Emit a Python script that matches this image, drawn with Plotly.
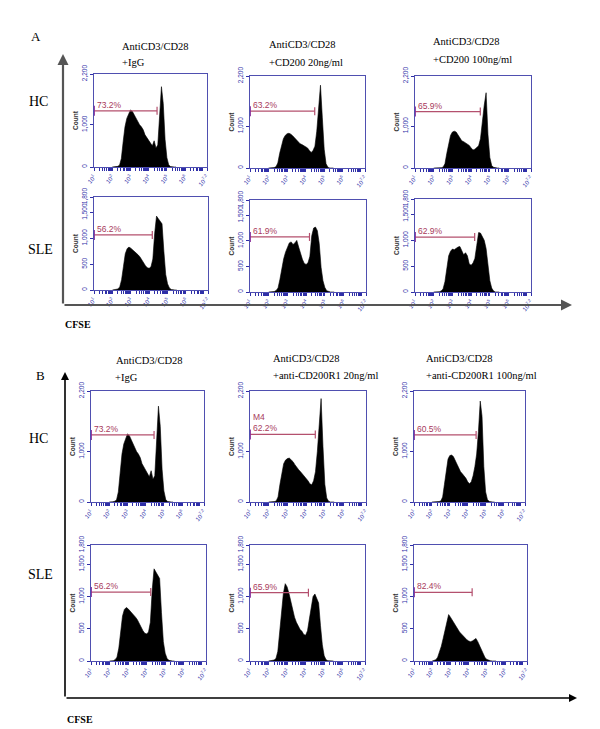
import math
import plotly.graph_objects as go

# ---------------- data ----------------
CFSE_BINS = [2.0, 2.1, 2.2, 2.3, 2.4, 2.5, 2.6, 2.7, 2.8, 2.9,
             3.0, 3.1, 3.2, 3.3, 3.4, 3.5, 3.6, 3.7, 3.8, 3.9,
             4.0, 4.1, 4.2, 4.3, 4.4, 4.5, 4.6, 4.7, 4.8, 4.9,
             5.0, 5.1, 5.2, 5.3, 5.4, 5.5]  # log10 CFSE

hc_igg = [0, 0, 5, 15, 40, 200, 600, 950, 1150, 1250,
          1350, 1320, 1230, 1150, 1060, 1000, 950, 880, 760, 700,
          620, 560, 500, 620, 450, 520, 1300, 1900, 1500, 650,
          220, 50, 10, 0, 0, 0]
hc_cd200_20 = [0, 0, 2, 10, 30, 120, 350, 550, 700, 780,
               820, 830, 810, 770, 720, 660, 620, 580, 560, 530,
               500, 480, 420, 370, 420, 520, 880, 1500, 1980, 1200,
               450, 100, 20, 0, 0, 0]
hc_cd200_100 = [0, 0, 0, 2, 8, 20, 100, 350, 600, 780,
                860, 880, 860, 780, 700, 650, 630, 600, 590, 540,
                480, 430, 450, 480, 530, 700, 1150, 1500, 1800, 800,
                250, 60, 15, 0, 0, 0]
sle_igg = [0, 2, 5, 20, 60, 200, 450, 700, 800, 830,
           810, 780, 750, 720, 680, 640, 580, 520, 470, 430,
           420, 450, 600, 1100, 1430, 1380, 1330, 1280, 750, 300,
           120, 40, 10, 0, 0, 0]
sle_cd200_20 = [0, 0, 2, 10, 30, 80, 250, 480, 650, 780,
                870, 960, 980, 930, 960, 1010, 880, 730, 640, 560,
                540, 570, 700, 1100, 1250, 1270, 1200, 950, 480, 220,
                90, 25, 5, 0, 0, 0]
sle_cd200_100 = [0, 0, 2, 5, 20, 60, 200, 450, 700, 790,
                 830, 820, 850, 870, 880, 800, 720, 760, 700, 540,
                 520, 560, 650, 900, 1150, 1140, 1080, 1000, 840, 500,
                 220, 75, 20, 0, 0, 0]
hc_r1_20 = [0, 0, 2, 8, 20, 100, 350, 600, 760, 830,
            860, 870, 840, 800, 740, 680, 640, 600, 560, 520,
            470, 420, 360, 340, 420, 600, 1000, 1600, 2050, 1100,
            350, 80, 15, 0, 0, 0]
hc_r1_100 = [0, 0, 2, 5, 10, 20, 100, 350, 650, 850,
             920, 930, 900, 830, 750, 660, 600, 560, 520, 470,
             400, 360, 400, 520, 700, 950, 1400, 2000, 1700, 700,
             200, 50, 10, 0, 0, 0]
sle_r1_20 = [0, 2, 5, 15, 40, 150, 450, 800, 1050, 1200,
             1150, 1050, 920, 800, 680, 600, 540, 490, 460, 410,
             400, 470, 650, 850, 1000, 1040, 980, 900, 550, 250,
             80, 20, 5, 0, 0, 0]
sle_r1_100 = [0, 5, 20, 60, 130, 230, 350, 480, 620, 720,
              680, 630, 590, 550, 500, 450, 420, 390, 350, 330,
              310, 300, 310, 330, 350, 300, 230, 160, 100, 50,
              25, 10, 3, 0, 0, 0]

HISTS = [hc_igg, hc_cd200_20, hc_cd200_100,
         sle_igg, sle_cd200_20, sle_cd200_100,
         hc_igg, hc_r1_20, hc_r1_100,
         sle_igg, sle_r1_20, sle_r1_100]

GATE_LABEL = ["73.2%", "63.2%", "65.9%", "56.2%", "61.9%", "62.9%",
              "73.2%", "M4<br>62.2%", "60.5%", "56.2%", "65.9%", "82.4%"]
GATE_END = [4.46, 4.49, 4.49, 4.17, 4.18, 4.19, 4.46, 4.49, 4.47, 4.22, 4.15, 4.19]
GATE_Y = [1330, 1360, 1350, 1065, 1077, 1064, 1330, 1340, 1330, 1070, 1060, 1065]

HC_YTICKS = [0, 1000, 2200]
HC_YTEXT = ["0", "1,000", "2,200"]
SLE_YTICKS = [0, 500, 1000, 1500, 1800]
SLE_YTEXT = ["0", "500", "1,000", "1,500", "1,800"]
X_TICKS = [1, 2, 3, 4, 5, 6, 7.2]
X_TEXT = ["10<sup>1</sup>", "10<sup>2</sup>", "10<sup>3</sup>", "10<sup>4</sup>",
          "10<sup>5</sup>", "10<sup>6</sup>", "10<sup>7.2</sup>"]

TITLES_A = [("AntiCD3/CD28", "+IgG"), ("AntiCD3/CD28", "+CD200 20ng/ml"),
            ("AntiCD3/CD28", "+CD200 100ng/ml")]
TITLES_B = [("AntiCD3/CD28", "+IgG"), ("AntiCD3/CD28", "+anti-CD200R1 20ng/ml"),
            ("AntiCD3/CD28", "+anti-CD200R1 100ng/ml")]

# ---------------- layout geometry ----------------
W, H = 600, 729
BOXES = [(86, 66, 199, 159), (242, 68, 357, 160), (407, 68, 523, 160),
         (86, 189, 200, 282), (242, 192, 358, 284), (407, 191, 523, 284),
         (83, 383, 196, 494), (242, 383, 358, 494), (406, 383, 517, 494),
         (83, 537, 198, 653), (242, 537, 357, 653), (406, 537, 519, 653)]

BLUE = "#4f4fb0"
TICKBLUE = "#2f2fa8"
GATE_COL = "#b4506e"
GATE_TXT = "#a83a5c"
SERIF = "Liberation Serif, Times New Roman, serif"
SANS = "Liberation Sans, Arial, sans-serif"

def px(x):
    return x / W

def py(y):
    return 1 - y / H

minor_vals = []
for d in range(1, 8):
    for k in range(2, 10):
        v = d + math.log10(k)
        if v < 7.2:
            minor_vals.append(v)

fig = go.Figure()
layout = dict(width=W, height=H, margin=dict(l=0, r=0, t=0, b=0),
              paper_bgcolor="white", plot_bgcolor="white", showlegend=False)
shapes = []
annotations = []

for i, (counts, box) in enumerate(zip(HISTS, BOXES)):
    n = i + 1
    xa = "x" if n == 1 else f"x{n}"
    ya = "y" if n == 1 else f"y{n}"
    l, t, r, b = box
    is_hc = (i // 3) % 2 == 0
    fig.add_trace(go.Scatter(x=CFSE_BINS, y=counts, mode="lines", fill="tozeroy",
                             fillcolor="black", line=dict(color="black", width=0.6),
                             xaxis=xa, yaxis=ya, hoverinfo="skip"))
    # gate line
    fig.add_trace(go.Scatter(x=[1.0, GATE_END[i]], y=[GATE_Y[i], GATE_Y[i]], mode="lines",
                             line=dict(color=GATE_COL, width=1.2),
                             xaxis=xa, yaxis=ya, hoverinfo="skip"))
    shapes.append(dict(type="line", xref=xa, yref=ya, x0=GATE_END[i], x1=GATE_END[i],
                       ysizemode="pixel", yanchor=GATE_Y[i], y0=-4, y1=4,
                       line=dict(color=GATE_COL, width=1.2)))
    shapes.append(dict(type="line", xref=xa, yref=ya, x0=1.0, x1=1.0,
                       ysizemode="pixel", yanchor=GATE_Y[i], y0=-5, y1=5,
                       line=dict(color="#8a2f9a", width=1.8)))
    annotations.append(dict(xref=xa, yref=ya, x=1.06, y=GATE_Y[i], text=GATE_LABEL[i],
                            showarrow=False, xanchor="left", yanchor="bottom", yshift=-1,
                            align="left", font=dict(family=SANS, size=8.5, color=GATE_TXT)))

    axkey = "xaxis" if n == 1 else f"xaxis{n}"
    aykey = "yaxis" if n == 1 else f"yaxis{n}"
    layout[axkey] = dict(domain=[px(l), px(r)], anchor=ya, range=[1, 7.2],
                         showgrid=False, zeroline=False, showline=True, linecolor=BLUE,
                         linewidth=1, mirror=True, tickmode="array", tickvals=X_TICKS,
                         ticktext=X_TEXT, tickangle=-50, ticks="outside", ticklen=3,
                         tickcolor=TICKBLUE, tickfont=dict(family=SANS, size=6, color=TICKBLUE),
                         minor=dict(tickmode="array", tickvals=minor_vals, ticks="outside",
                                    ticklen=3, tickcolor=TICKBLUE, tickwidth=1),
                         automargin=False, fixedrange=True)
    yt = HC_YTICKS if is_hc else SLE_YTICKS
    ytx = HC_YTEXT if is_hc else SLE_YTEXT
    layout[aykey] = dict(domain=[py(b), py(t)], anchor=xa,
                         range=[0, 2200 if is_hc else 1800],
                         showgrid=False, zeroline=False, showline=True, linecolor=BLUE,
                         linewidth=1, mirror=True, tickmode="array", tickvals=yt, ticktext=ytx,
                         tickangle=-90, ticks="outside", ticklen=3, tickcolor=TICKBLUE,
                         tickfont=dict(family=SANS, size=6.5, color=TICKBLUE),
                         title=dict(text="<b>Count</b>", standoff=2,
                                    font=dict(family=SANS, size=6.5, color="#333")),
                         automargin=False, fixedrange=True)

# ---------------- panel titles ----------------
title_pos_a = [((112, 38), (112, 54)), ((259, 37), (259, 55)), ((423, 34), (423, 51))]
title_pos_b = [((106, 352), (105, 369)), ((263, 351), (263, 368)), ((416, 350), (416, 367))]
for titles, poss in ((TITLES_A, title_pos_a), (TITLES_B, title_pos_b)):
    for (l1, l2), ((x1, y1), (x2, y2)) in zip(titles, poss):
        annotations.append(dict(xref="paper", yref="paper", x=px(x1), y=py(y1), text=l1,
                                showarrow=False, xanchor="left", yanchor="middle",
                                font=dict(family=SERIF, size=10.5, color="black")))
        annotations.append(dict(xref="paper", yref="paper", x=px(x2), y=py(y2), text=l2,
                                showarrow=False, xanchor="left", yanchor="middle",
                                font=dict(family=SERIF, size=10.5, color="black")))

for txt, x, y, sz, bold in [("A", 28, 28, 13, False), ("HC", 30, 94, 14, False),
                             ("SLE", 32, 241, 14, False), ("CFSE", 70, 316, 10, True),
                             ("B", 32, 367, 13, False), ("HC", 30, 430, 14, False),
                             ("SLE", 32, 566, 14, False), ("CFSE", 72, 711, 10, True)]:
    annotations.append(dict(xref="paper", yref="paper", x=px(x), y=py(y),
                            text=f"<b>{txt}</b>" if bold else txt, showarrow=False,
                            xanchor="center", yanchor="middle",
                            font=dict(family=SERIF, size=sz, color="black")))

# ---------------- frame arrows ----------------
for (x0, y0, x1, y1, col, wd) in [(55, 297, 55, 46, "#555555", 2.2), (55, 297, 564, 297, "#555555", 2.2),
                                  (57, 690, 57, 364, "#000000", 1.6), (57, 690, 569, 690, "#000000", 1.6)]:
    annotations.append(dict(xref="paper", yref="paper", x=px(x1), y=py(y1),
                            axref="pixel", ayref="pixel", ax=x0 - x1, ay=y0 - y1,
                            text="", showarrow=True, arrowhead=2, arrowsize=1,
                            arrowwidth=wd, arrowcolor=col))

layout["shapes"] = shapes
layout["annotations"] = annotations
fig.update_layout(**layout)
fig.write_html("out.html")
